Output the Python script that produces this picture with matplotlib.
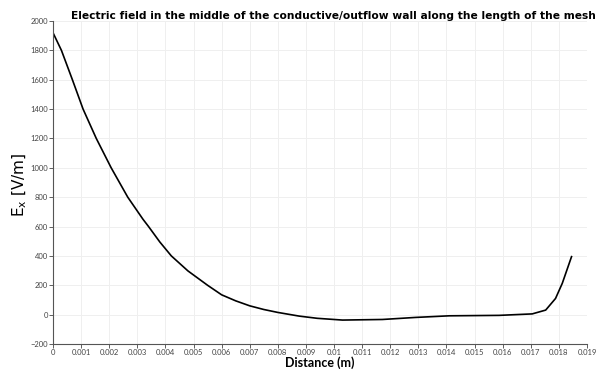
import numpy as np
import matplotlib
matplotlib.use("Agg")
import matplotlib.pyplot as plt

# valeurs
distance = [0.0, 0.0003, 0.00069, 0.00107, 0.00154, 0.00207, 0.00266, 0.0032, 0.0034,
            0.0038, 0.00421, 0.0048, 0.0055, 0.006, 0.0065, 0.007, 0.0075, 0.008,
            0.00876, 0.0094, 0.0103, 0.01172, 0.0129, 0.0141, 0.01587, 0.01705,
            0.01753, 0.01788, 0.01812, 0.01845]
e_x = [1920, 1800, 1600, 1400, 1200, 1000, 800, 650, 600,
       495, 400, 298, 200, 135, 94, 60, 35, 15,
       -10, -25, -37, -33, -19, -8, -5, 5,
       31, 110, 213, 395]

x_ticks = [i * 0.001 for i in range(20)]
x_tick_labels = ["0", "0.001", "0.002", "0.003", "0.004", "0.005", "0.006", "0.007",
                 "0.008", "0.009", "0.01", "0.011", "0.012", "0.013", "0.014", "0.015",
                 "0.016", "0.017", "0.018", "0.019"]
y_ticks = list(range(-200, 2001, 200))

fig = plt.figure(figsize=(6.02, 3.70), dpi=100)
ax = fig.add_axes([53 / 602, 1 - 344 / 370, 534 / 602, 323 / 370])

ax.plot(distance, e_x, color="black", lw=1.2, solid_joinstyle="round")

ax.set_xlim(0, 0.019)
ax.set_ylim(-200, 2000)
ax.set_xticks(x_ticks)
ax.set_xticklabels(x_tick_labels)
ax.set_yticks(y_ticks)
ax.tick_params(labelsize=5.5, colors="#444444", length=3, width=0.6, pad=0.5)
for lab in ax.get_xticklabels() + ax.get_yticklabels():
    lab.set_family("Lato")
ax.grid(color="#efefef", lw=0.7)
ax.set_axisbelow(True)

for s in ["top", "right"]:
    ax.spines[s].set_visible(False)
for s in ["left", "bottom"]:
    ax.spines[s].set_color("#555555")
    ax.spines[s].set_linewidth(0.8)

ax.set_xlabel("Distance (m)", fontsize=9, fontweight="bold", family="Lato", labelpad=0)
ax.set_ylabel(r"$\mathregular{E_x}$ [V/m]", fontsize=11)
ax.yaxis.set_label_coords(-0.045, 0.492)
fig.text(333 / 602, 1 - 16 / 370, "Electric field in the middle of the conductive/outflow wall along the length of the mesh",
         ha="center", va="center", fontsize=7.7, fontweight="bold")

fig.savefig("out.png", dpi=100)
